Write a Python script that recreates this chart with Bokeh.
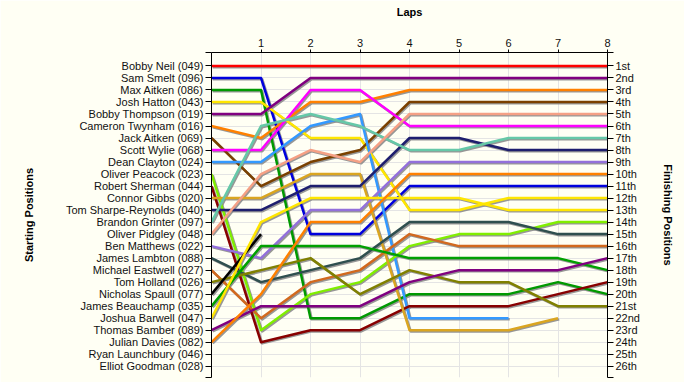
from bokeh.plotting import figure
from bokeh.models import Range1d, LinearAxis, FixedTicker, CustomJSTickFormatter
from bokeh.embed import file_html
from bokeh.resources import INLINE

# ---------------- data ----------------
drivers = [
    "Bobby Neil (049)", "Sam Smelt (096)", "Max Aitken (086)", "Josh Hatton (043)",
    "Bobby Thompson (019)", "Cameron Twynham (016)", "Jack Aitken (069)", "Scott Wylie (068)",
    "Dean Clayton (024)", "Oliver Peacock (023)", "Robert Sherman (044)", "Connor Gibbs (020)",
    "Tom Sharpe-Reynolds (040)", "Brandon Grinter (097)", "Oliver Pidgley (048)", "Ben Matthews (022)",
    "James Lambton (088)", "Michael Eastwell (027)", "Tom Holland (026)", "Nicholas Spaull (077)",
    "James Beauchamp (035)", "Joshua Barwell (047)", "Thomas Bamber (089)", "Julian Davies (082)",
    "Ryan Launchbury (046)", "Elliot Goodman (028)",
]
finish_labels = [
    "1st", "2nd", "3rd", "4th", "5th", "6th", "7th", "8th", "9th", "10th", "11th", "12th", "13th",
    "14th", "15th", "16th", "17th", "18th", "19th", "20th", "21st", "22nd", "23rd", "24th", "25th", "26th",
]
laps = [0, 1, 2, 3, 4, 5, 6, 7, 8]
N = None
# position of each driver (in starting order) at the end of each lap
lap0 = [1, 2, 3, 4, 5, 6, 7, 8, 9, 10, 11, 12, 13, 14, 15, 16, 17, 18, 19, 20, 21, 22, 23, 24, N, N]
lap1 = [1, 2, 3, 4, 5, 7, 11, 8, 9, 23, 24, 12, 13, 6, 10, 17, 19, 22, 18, 15, 16, 14, 21, 20, N, N]
lap2 = [1, 15, 22, 7, 2, 4, 9, 3, 6, 20, 23, 10, 11, 5, 8, 13, 18, 19, 17, N, 16, 12, 21, 14, N, N]
lap3 = [1, 15, 22, 7, 2, 4, 8, 3, 5, 19, 23, 10, 11, 6, 9, 13, 17, 18, 20, N, 16, 12, 21, 14, N, N]
lap4 = [1, 11, 20, 13, 2, 3, 4, 6, 22, 16, 21, 23, 7, 8, 5, 9, 14, 15, 18, N, 17, 12, 19, 10, N, N]
lap5 = [1, 11, 20, 13, 2, 3, 4, 6, 22, 15, 21, 23, 7, 8, 5, 9, 14, 16, 19, N, 17, 12, 18, 10, N, N]
lap6 = [1, 11, 20, 12, 2, 3, 4, 6, 22, 15, 21, 23, 8, 7, 5, 9, 14, 16, 19, N, 17, 13, 18, 10, N, N]
lap7 = [1, 11, 19, 12, 2, 3, 4, 6, N, 14, 20, 22, 8, 7, 5, 9, 15, 16, 21, N, 17, 13, 18, 10, N, N]
lap8 = [1, 11, 20, 12, 2, 3, 4, 6, N, 14, 19, N, 8, 7, 5, 9, 15, 16, 21, N, 18, 13, 17, 10, N, N]
lap_positions = [lap0, lap1, lap2, lap3, lap4, lap5, lap6, lap7, lap8]

colors = [
    "#FF0000", "#0000DD", "#009900", "#FFE600", "#800080", "#FF8000", "#7A4000", "#FF00FF",
    "#3399FF", "#80EE00", "#880000", "#DAA520", "#1E1E6E", "#66C8A8", "#F5A085", "#9370DB",
    "#2F4F4F", "#D2691E", "#808000", "#000000", "#00A000", "#FFE600", "#800080", "#FF8000",
    "#888888", "#888888",
]

# ---------------- build ----------------
BG = "#FFFFF4"
FONT = "Liberation Sans"

xs, ys, cs, sxs, sys_ = [], [], [], [], []
dx, dy = 0.025, 0.1
for i in range(len(drivers)):
    px = [lap for lap, arr in zip(laps, lap_positions) if arr[i] is not None]
    py = [arr[i] for arr in lap_positions if arr[i] is not None]
    if len(px) < 2:
        continue
    xs.append(px)
    ys.append(py)
    cs.append(colors[i])
    sxs.append([v + dx for v in px])
    sys_.append([v + dy for v in py])

n_rows = len(drivers)
p = figure(
    width=684, height=382, output_backend="svg", toolbar_location=None,
    x_range=Range1d(0, 8), y_range=Range1d(n_rows + 0.94, -0.12),
    x_axis_location="above", y_axis_location="left",
    min_border_left=211, min_border_right=77, min_border_top=52, min_border_bottom=5,
    background_fill_color=BG, border_fill_color=BG, outline_line_color=None,
)

p.multi_line(xs=sxs, ys=sys_, line_color="#8C8C8C", line_width=2.5, line_alpha=0.9, line_join="round")
p.multi_line(xs=xs, ys=ys, line_color=cs, line_width=2.5, line_join="round")

# grids
p.xgrid.ticker = FixedTicker(ticks=laps[1:])
p.ygrid.ticker = FixedTicker(ticks=list(range(1, n_rows + 1)))
p.xgrid.grid_line_color = "#E4E4E4"
p.ygrid.grid_line_color = "#E4E4E4"

row_ticks = [-0.12] + list(range(1, n_rows + 1)) + [n_rows + 0.94]
fmt_code = """
const i = Math.round(tick);
if (Math.abs(tick - i) > 1e-6 || i < 1 || i > labels.length) return "";
return labels[i - 1];
"""

def style_axis(ax):
    ax.axis_line_color = "black"
    ax.major_tick_line_color = "black"
    ax.minor_tick_line_color = None
    ax.major_tick_in = 0
    ax.major_label_text_font = FONT
    ax.major_label_text_font_size = "11px"
    ax.major_label_text_color = "#111111"
    ax.axis_label_text_font = FONT
    ax.axis_label_text_font_size = "11px"
    ax.axis_label_text_font_style = "bold"
    ax.axis_label_text_color = "#000000"

# top axis
xa = p.xaxis[0]
style_axis(xa)
xa.ticker = FixedTicker(ticks=laps[1:])
xa.major_tick_out = 3
xa.major_label_standoff = 3
xa.axis_label = "Laps"
xa.axis_label_standoff = 18

# left axis
ya = p.yaxis[0]
style_axis(ya)
ya.ticker = FixedTicker(ticks=row_ticks)
ya.formatter = CustomJSTickFormatter(args=dict(labels=drivers), code=fmt_code)
ya.major_tick_out = 6
ya.major_label_standoff = 2
ya.axis_label = "Starting Positions"
ya.axis_label_standoff = 28

# right axis
ra = LinearAxis()
style_axis(ra)
ra.ticker = FixedTicker(ticks=row_ticks)
ra.formatter = CustomJSTickFormatter(args=dict(labels=finish_labels), code=fmt_code)
ra.major_tick_out = 6
ra.major_label_standoff = 2
ra.axis_label = "Finishing Positions"
ra.axis_label_standoff = 19
p.add_layout(ra, "right")

open("out.html", "w").write(file_html(p, INLINE))
